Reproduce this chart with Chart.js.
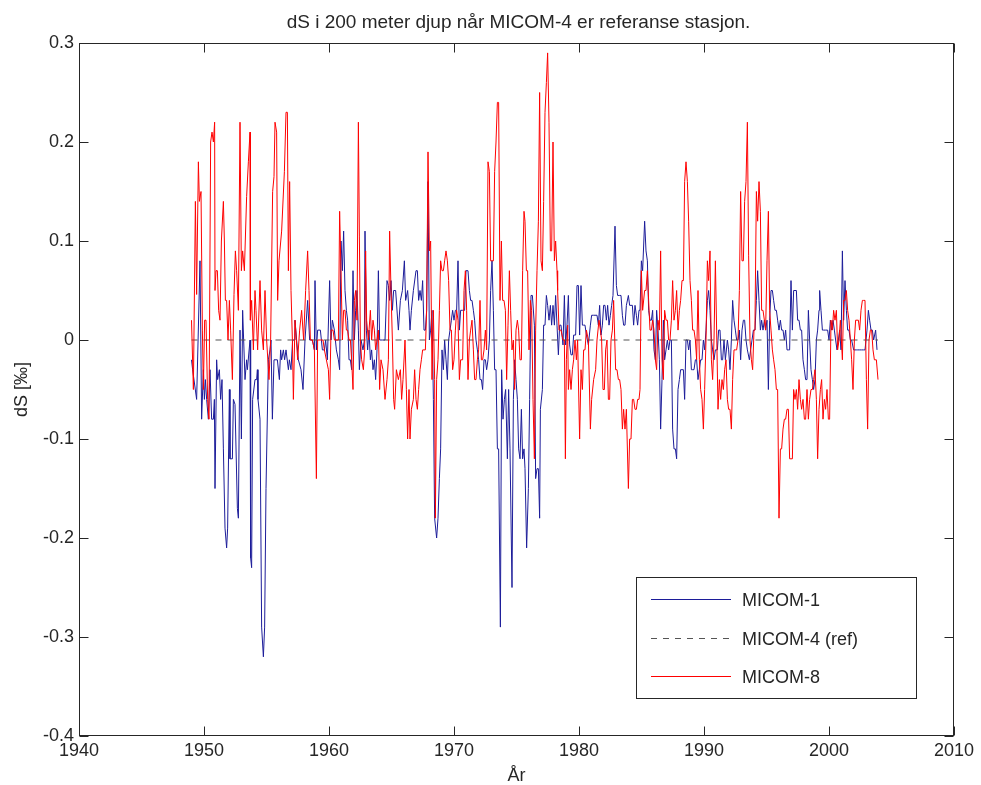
<!DOCTYPE html>
<html><head><meta charset="utf-8">
<script src="https://cdn.jsdelivr.net/npm/chart.js@4/dist/chart.umd.min.js"></script>
<style>html,body{margin:0;padding:0;background:#fff;} #wrap{width:981px;height:785px;position:relative;}</style>
</head><body><div id="wrap"><canvas id="c" width="981" height="785"></canvas></div>
<script>
const titleText = 'dS i 200 meter djup når MICOM-4 er referanse stasjon.';
const xLabel = 'År';
const yLabel = 'dS [‰]';
const seriesNames = ['MICOM-1', 'MICOM-4 (ref)', 'MICOM-8'];
const xTicks = [1940, 1950, 1960, 1970, 1980, 1990, 2000, 2010];
const yTicks = [-0.4, -0.3, -0.2, -0.1, 0, 0.1, 0.2, 0.3];

// MICOM-1 (blue)
const m1Year = [
1949.0,1949.09,1949.41,1949.68,1949.81,1949.95,1950.03,1950.11,1950.21,1950.35,1950.48,1950.61,1950.75,1950.83,1950.88,1951.01,1951.09,1951.23,1951.33,1951.44,1951.55,1951.68,1951.81,1951.89,1952.03,1952.08,1952.27,1952.35,1952.48,1952.67,1952.75,1952.88,1952.99,1953.09,1953.28,1953.41,1953.47,1953.68,1953.73,1953.81,1953.89,1954.08,1954.21,1954.27,1954.32,1954.48,1954.61,1954.75,1954.85,1954.96,1955.15,1955.28,1955.36,1955.47,1955.6,1955.87,1956.03,1956.13,1956.21,1956.35,1956.45,1956.56,1956.75,1956.83,1956.96,1957.09,1957.2,
1957.28,1957.41,1957.55,1957.76,1957.92,1958.08,1958.29,1958.45,1958.67,1958.83,1958.88,1958.99,1959.09,1959.31,1959.47,1959.63,1959.73,1959.87,1960.05,1960.16,1960.27,1960.43,1960.59,1960.75,1960.85,1960.96,1961.07,1961.17,1961.28,1961.39,1961.49,1961.6,1961.71,1961.81,1961.92,1962.03,1962.13,1962.24,1962.35,1962.43,1962.56,1962.72,1962.83,1962.88,1962.99,1963.09,1963.2,1963.31,1963.41,1963.52,1963.63,1963.73,1963.84,1963.95,1964.05,1964.27,1964.48,1964.64,1964.75,1964.85,1964.96,1965.07,1965.17,1965.33,1965.55,1965.71,1965.87,1966.03,1966.13,1966.29,1966.4,
1966.48,1966.59,1966.75,1966.96,1967.07,1967.17,1967.28,1967.39,1967.49,1967.6,1967.71,1967.81,1967.92,1968.03,1968.13,1968.24,1968.35,1968.45,1968.61,1968.72,1968.83,1968.93,1969.04,1969.15,1969.25,1969.36,1969.47,1969.57,1969.68,1969.79,1969.89,1970.0,1970.11,1970.21,1970.32,1970.43,1970.53,1970.69,1970.85,1970.96,1971.12,1971.23,1971.33,1971.44,1971.55,1971.65,1971.76,1971.87,1971.97,1972.08,1972.19,1972.29,1972.4,1972.51,1972.61,1972.72,1972.83,1972.93,1973.04,1973.15,1973.25,1973.36,1973.47,1973.57,1973.71,1973.81,1973.92,1974.03,1974.13,1974.27,1974.37,1974.48,1974.64,1974.75,1974.85,1974.96,1975.07,1975.17,1975.28,1975.39,1975.49,1975.6,
1975.68,1975.81,1975.95,1976.05,1976.16,1976.27,1976.43,1976.53,1976.64,1976.75,1976.85,1976.91,1977.07,1977.17,1977.28,1977.39,1977.49,1977.6,1977.71,1977.81,1977.92,1978.03,1978.13,1978.24,1978.35,1978.45,1978.56,1978.72,1978.83,1978.93,1979.04,1979.15,1979.25,1979.36,1979.47,1979.57,1979.73,1979.84,1979.95,1980.05,1980.16,1980.27,1980.37,1980.48,1980.59,1980.75,1980.91,1981.01,1981.17,1981.28,1981.44,1981.55,1981.65,1981.76,1981.87,1981.97,1982.08,1982.19,1982.29,1982.4,1982.51,1982.61,1982.72,1982.88,1982.99,1983.09,1983.25,1983.36,1983.47,1983.57,1983.68,1983.79,1983.95,1984.05,1984.16,1984.27,1984.37,1984.48,1984.59,1984.69,1984.8,
1984.88,1984.99,1985.09,1985.25,1985.36,1985.47,1985.57,1985.68,1985.79,1985.89,1986.0,1986.11,1986.21,1986.32,1986.43,1986.53,1986.64,1986.75,1986.85,1986.96,1987.07,1987.17,1987.28,1987.39,1987.49,1987.6,1987.71,1987.81,1987.92,1988.03,1988.13,1988.24,1988.35,1988.45,1988.56,1988.67,1988.77,1988.88,1988.99,1989.09,1989.2,1989.31,1989.41,1989.52,1989.63,1989.73,1989.84,1989.95,1990.05,1990.16,1990.27,1990.37,1990.48,1990.59,1990.69,1990.8,1990.91,1991.07,1991.17,1991.28,1991.39,1991.49,1991.6,1991.71,1991.87,1991.97,1992.08,1992.19,1992.29,1992.4,1992.51,1992.61,1992.72,1992.83,1992.93,1993.04,1993.15,1993.25,1993.36,1993.47,1993.63,1993.73,1993.84,1993.95,
1994.08,1994.19,1994.29,1994.4,1994.51,1994.61,1994.72,1994.83,1994.93,1995.04,1995.15,1995.25,1995.36,1995.47,1995.57,1995.68,1995.79,1995.89,1996.0,1996.11,1996.21,1996.32,1996.43,1996.53,1996.64,1996.75,1996.85,1996.96,1997.07,1997.17,1997.28,1997.39,1997.49,1997.6,1997.71,1997.81,1997.92,1998.03,1998.13,1998.24,1998.35,1998.45,1998.56,1998.67,1998.77,1998.88,1998.99,1999.09,1999.2,1999.25,1999.36,1999.47,1999.57,1999.73,1999.89,2000.0,2000.11,2000.21,2000.32,2000.43,2000.53,2000.64,2000.75,2000.85,2000.96,2001.07,2001.17,2001.28,2001.39,2001.49,2001.6,2001.71,2001.81,2001.97,2002.08,2002.19,2002.29,2002.45,2002.61,2002.77,2002.88,2003.04,2003.15,2003.25,2003.36,2003.47,2003.57,2003.73,2003.84
];
const m1Val = [
-0.02,-0.03,-0.06,0.08,-0.08,-0.03,-0.06,-0.04,-0.06,-0.08,-0.03,-0.08,-0.08,-0.06,-0.15,-0.02,-0.04,-0.03,-0.06,-0.04,-0.11,-0.19,-0.21,-0.19,-0.05,-0.12,-0.12,-0.06,-0.065,-0.17,-0.18,0.01,-0.10,0.03,-0.04,-0.02,-0.03,0.0,-0.22,-0.23,-0.06,-0.04,-0.04,-0.03,-0.06,-0.08,-0.29,-0.32,-0.29,-0.15,-0.02,-0.01,0.0,-0.08,-0.02,-0.02,-0.04,-0.01,-0.02,-0.01,-0.02,-0.01,-0.03,-0.02,-0.03,0.0,0.0,
0.02,0.0,-0.02,-0.03,-0.05,0.0,0.04,0.0,0.0,-0.01,0.06,-0.01,0.01,0.01,-0.01,-0.01,0.0,-0.02,0.06,0.0,0.02,0.01,-0.01,-0.02,-0.03,0.10,0.07,0.11,0.05,0.03,0.02,-0.02,-0.02,-0.03,0.07,0.0,0.03,0.05,0.01,-0.03,0.0,-0.01,0.0,0.11,0.01,-0.01,0.01,-0.02,-0.01,-0.03,-0.02,-0.04,-0.01,0.07,0.0,0.0,0.0,0.06,0.055,0.04,0.06,0.03,0.05,0.05,0.01,0.04,0.05,0.08,0.04,0.05,0.03,
0.01,0.03,0.05,0.07,0.07,0.04,0.05,0.04,0.06,0.01,0.01,0.03,0.16,0.0,0.01,0.03,-0.06,-0.18,-0.20,-0.18,-0.14,-0.11,-0.01,-0.03,0.0,-0.02,-0.04,0.0,0.01,0.02,0.03,0.02,0.03,0.03,0.08,0.01,0.03,0.03,0.03,0.07,0.07,0.05,0.04,0.04,0.03,0.02,0.0,-0.01,-0.02,-0.04,-0.04,-0.05,-0.02,-0.02,-0.03,-0.02,0.0,0.05,0.08,0.03,-0.03,-0.03,-0.11,-0.11,-0.29,-0.03,-0.08,-0.06,-0.05,-0.12,-0.05,-0.11,-0.25,-0.06,-0.02,-0.04,-0.06,-0.11,-0.12,-0.07,-0.12,-0.11,
-0.13,-0.21,-0.15,-0.06,0.045,0.045,0.015,-0.14,-0.13,-0.13,-0.18,-0.07,-0.05,0.015,0.015,0.045,0.035,0.02,0.035,0.015,0.035,0.015,0.045,0.015,-0.015,0.015,0.015,-0.005,0.045,-0.005,0.015,0.045,-0.005,-0.015,-0.015,0.005,0.005,0.055,0.055,0.005,0.055,0.015,0.015,0.015,0.005,-0.005,0.015,0.025,0.025,0.025,0.025,0.015,0.035,0.005,0.015,0.035,0.035,0.02,0.035,0.015,0.025,0.035,0.045,0.115,0.055,0.045,0.045,0.045,0.025,0.015,0.015,0.035,0.045,0.035,0.035,0.035,0.015,0.035,0.025,0.015,0.03,
0.03,0.08,0.07,0.12,0.09,0.08,0.03,0.02,0.02,0.03,-0.01,-0.02,0.03,0.01,-0.02,-0.09,-0.04,0.02,-0.02,-0.01,0.0,-0.01,0.0,0.0,-0.09,-0.11,-0.11,-0.12,-0.05,-0.04,-0.03,-0.03,-0.03,-0.06,0.0,0.0,-0.01,0.0,-0.03,-0.03,-0.03,-0.02,-0.02,-0.04,-0.03,-0.02,-0.02,0.0,-0.01,0.01,0.04,0.05,0.03,0.0,-0.01,-0.02,-0.01,-0.01,0.01,0.01,-0.02,-0.02,0.0,-0.02,0.0,-0.01,-0.03,0.0,0.04,0.02,0.01,0.0,0.0,0.01,-0.02,0.01,0.02,0.02,0.0,-0.01,-0.02,-0.01,0.0,0.01,
0.01,0.04,0.07,0.04,0.01,0.02,0.01,0.02,0.01,0.02,-0.05,0.02,0.05,0.05,0.04,0.03,0.03,0.02,0.01,0.02,0.01,0.01,0.0,0.01,-0.01,-0.01,-0.01,0.06,0.01,0.05,0.05,0.05,0.02,0.02,0.01,0.01,-0.02,-0.03,-0.04,-0.04,0.03,0.0,-0.03,-0.04,-0.05,-0.04,0.0,0.01,0.03,0.05,0.03,0.01,0.01,0.01,0.01,0.0,0.02,0.01,0.02,0.01,0.0,-0.01,0.0,0.01,-0.01,0.09,0.02,0.06,0.03,0.01,0.01,0.0,0.0,-0.01,-0.01,-0.01,-0.01,-0.01,-0.01,-0.01,-0.01,0.01,0.03,0.02,0.01,0.01,0.0,0.01,-0.01
];

// MICOM-4 (reference, zero line)
const refYear = [1949.0, 2003.92];
const refVal = [0, 0];

// MICOM-8 (red)
const m8Year = [
1949.0,1949.15,1949.31,1949.41,1949.55,1949.63,1949.76,1949.87,1949.95,1950.05,1950.16,1950.29,1950.4,1950.53,1950.64,1950.75,1950.85,1950.88,1950.96,1951.07,1951.17,1951.28,1951.39,1951.55,1951.63,1951.71,1951.81,1951.92,1952.03,1952.13,1952.27,1952.4,1952.51,1952.61,1952.75,1952.88,1952.99,1953.09,1953.23,1953.41,1953.55,1953.68,1953.71,1953.81,1953.95,1954.08,1954.16,1954.29,1954.48,1954.61,1954.75,1954.88,1955.01,1955.2,1955.33,1955.49,1955.6,1955.68,1955.81,1955.89,1956.0,1956.21,1956.43,1956.56,1956.67,1956.75,1956.85,1956.96,1957.07,1957.15,
1957.28,1957.39,1957.49,1957.65,1957.81,1957.97,1958.13,1958.29,1958.4,1958.51,1958.67,1958.83,1958.99,1959.09,1959.31,1959.52,1959.63,1959.79,1959.95,1960.05,1960.16,1960.32,1960.43,1960.64,1960.75,1960.85,1960.96,1961.07,1961.17,1961.28,1961.39,1961.49,1961.6,1961.71,1961.81,1961.92,1962.03,1962.13,1962.24,1962.35,1962.43,1962.51,1962.61,1962.75,1962.85,1962.93,1963.01,1963.15,1963.31,1963.41,1963.52,1963.63,1963.73,1963.84,1963.95,1964.05,1964.16,1964.32,1964.48,1964.64,1964.75,1964.85,1964.96,1965.07,1965.17,1965.25,1965.39,1965.55,1965.71,1965.81,1965.92,1966.08,1966.19,1966.29,1966.4,
1966.48,1966.59,1966.75,1966.85,1966.96,1967.07,1967.17,1967.28,1967.39,1967.49,1967.71,1967.81,1967.92,1968.03,1968.13,1968.24,1968.35,1968.45,1968.51,1968.61,1968.72,1968.83,1968.93,1969.04,1969.15,1969.25,1969.36,1969.47,1969.57,1969.68,1969.79,1969.89,1970.0,1970.11,1970.21,1970.32,1970.43,1970.53,1970.69,1970.8,1970.91,1971.01,1971.12,1971.23,1971.33,1971.44,1971.55,1971.65,1971.76,1971.87,1971.97,1972.08,1972.19,1972.29,1972.4,1972.51,1972.61,1972.72,1972.83,1972.93,1973.04,1973.15,1973.25,1973.36,1973.47,1973.57,1973.68,1973.79,1973.89,1974.0,1974.11,1974.21,1974.32,1974.43,1974.53,1974.64,1974.75,1974.85,1974.96,1975.07,1975.17,1975.28,1975.39,1975.49,1975.6,
1975.68,1975.79,1975.89,1976.0,1976.11,1976.21,1976.32,1976.43,1976.53,1976.64,1976.75,1976.85,1976.96,1977.07,1977.17,1977.28,1977.39,1977.49,1977.6,1977.71,1977.81,1977.92,1978.03,1978.13,1978.24,1978.29,1978.4,1978.56,1978.72,1978.83,1978.91,1978.99,1979.09,1979.15,1979.25,1979.36,1979.47,1979.57,1979.68,1979.79,1979.89,1980.05,1980.16,1980.27,1980.37,1980.48,1980.59,1980.75,1980.91,1981.01,1981.17,1981.33,1981.44,1981.6,1981.71,1981.81,1981.92,1982.03,1982.13,1982.24,1982.35,1982.45,1982.56,1982.67,1982.77,1982.93,1983.04,1983.15,1983.25,1983.36,1983.47,1983.57,1983.68,1983.79,1983.95,1984.05,1984.16,1984.27,1984.37,1984.48,1984.59,1984.69,1984.8,
1984.88,1984.99,1985.09,1985.25,1985.36,1985.47,1985.57,1985.68,1985.79,1985.89,1986.0,1986.11,1986.21,1986.32,1986.43,1986.53,1986.64,1986.75,1986.85,1986.96,1987.07,1987.17,1987.28,1987.39,1987.49,1987.6,1987.71,1987.81,1987.92,1988.03,1988.13,1988.24,1988.35,1988.45,1988.56,1988.67,1988.77,1988.88,1988.99,1989.09,1989.2,1989.31,1989.41,1989.52,1989.63,1989.73,1989.84,1989.95,1990.05,1990.16,1990.27,1990.37,1990.48,1990.59,1990.69,1990.8,1990.91,1991.01,1991.12,1991.23,1991.33,1991.44,1991.55,1991.65,1991.76,1991.87,1991.97,1992.08,1992.19,1992.29,1992.4,1992.51,1992.61,1992.72,1992.83,1992.93,1993.04,1993.15,1993.25,1993.36,1993.47,1993.57,1993.68,1993.79,1993.89,1994.0,
1994.08,1994.19,1994.29,1994.4,1994.51,1994.61,1994.72,1994.83,1994.93,1995.04,1995.15,1995.25,1995.36,1995.47,1995.57,1995.68,1995.79,1995.89,1996.0,1996.11,1996.21,1996.32,1996.43,1996.53,1996.64,1996.75,1996.85,1996.96,1997.07,1997.17,1997.28,1997.39,1997.49,1997.6,1997.71,1997.81,1997.92,1998.03,1998.13,1998.24,1998.35,1998.45,1998.56,1998.67,1998.77,1998.88,1998.99,1999.09,1999.2,1999.31,1999.41,1999.52,1999.63,1999.73,1999.84,1999.95,2000.05,2000.16,2000.27,2000.37,2000.48,2000.59,2000.69,2000.8,2000.91,2001.07,2001.17,2001.28,2001.39,2001.49,2001.6,2001.71,2001.81,2001.92,2002.03,2002.13,2002.24,2002.35,2002.45,2002.56,2002.67,2002.77,2002.88,2002.99,2003.09,2003.2,2003.31,2003.41,2003.52,2003.63,2003.79,2003.92
];
const m8Val = [
0.02,-0.05,0.14,0.046,0.18,0.14,0.15,0.01,-0.05,0.02,0.02,-0.06,-0.08,0.20,0.21,0.20,0.22,0.05,0.07,0.07,0.03,0.02,0.10,0.14,0.10,0.04,0.04,0.0,0.04,0.01,-0.04,0.046,0.09,0.07,0.03,0.22,0.07,0.09,0.07,0.145,0.18,0.21,0.02,0.04,-0.01,0.05,0.03,-0.01,0.06,0.01,-0.01,0.05,0.0,-0.04,0.0,0.15,0.165,0.22,0.21,0.04,0.08,0.11,0.17,0.23,0.23,0.07,0.16,0.05,0.0,-0.06,
0.02,0.0,-0.02,0.01,0.03,0.0,0.05,0.09,0.05,0.0,0.0,-0.01,-0.14,0.0,0.0,0.0,-0.01,-0.02,-0.03,-0.06,0.01,0.01,0.0,0.0,0.0,0.13,0.07,0.0,0.03,0.03,0.01,0.01,0.0,0.0,-0.02,-0.05,0.04,0.05,0.02,0.22,0.105,0.0,-0.02,-0.03,-0.01,0.09,0.02,0.0,0.03,0.0,0.02,0.01,-0.01,0.0,0.01,-0.05,-0.02,-0.03,-0.06,-0.04,-0.02,0.11,0.05,0.0,-0.06,-0.07,-0.03,-0.04,-0.03,-0.06,-0.04,0.0,-0.05,-0.10,-0.05,
-0.10,-0.07,-0.06,-0.03,-0.06,-0.07,-0.05,-0.03,-0.02,-0.01,-0.01,0.03,0.19,0.09,0.10,-0.04,0.03,-0.04,-0.18,-0.04,-0.02,0.03,0.08,0.07,0.07,0.08,0.09,0.08,0.06,0.01,0.01,-0.03,-0.02,0.01,0.03,0.02,-0.04,-0.02,-0.02,0.05,0.07,0.03,-0.04,0.0,0.01,0.02,-0.01,-0.04,-0.04,-0.02,-0.01,0.04,-0.02,-0.02,-0.01,0.01,-0.01,0.18,0.17,0.08,0.08,0.08,0.17,0.20,0.24,0.24,0.04,0.10,0.04,0.04,0.03,-0.04,0.015,0.07,0.03,-0.01,0.0,-0.05,0.01,0.02,0.01,-0.02,-0.02,0.07,0.13,
0.12,0.07,0.07,-0.01,0.04,0.03,-0.06,-0.12,0.01,0.07,0.12,0.25,0.08,0.07,0.14,0.23,0.26,0.29,0.22,0.09,0.09,0.20,0.08,0.10,0.07,0.05,0.01,0.01,0.0,0.0,-0.12,-0.02,0.015,-0.05,-0.03,-0.05,-0.03,-0.02,0.0,-0.02,0.0,-0.10,-0.03,-0.05,-0.01,-0.01,0.01,0.0,-0.09,-0.06,-0.04,-0.03,0.0,0.02,0.01,0.0,-0.05,-0.05,-0.01,0.0,-0.06,-0.06,0.0,0.01,0.04,-0.03,-0.03,-0.04,-0.04,-0.05,-0.09,-0.07,-0.09,-0.07,-0.15,-0.10,-0.10,-0.06,-0.06,-0.07,-0.07,-0.06,-0.06,
-0.05,0.07,0.03,0.05,0.05,0.07,0.04,0.01,0.01,0.02,0.01,-0.02,-0.03,0.02,0.01,0.09,-0.02,-0.04,0.03,0.02,0.02,0.0,0.0,0.02,0.06,0.02,0.03,0.05,0.01,0.03,0.04,0.06,0.06,0.16,0.18,0.16,0.12,0.06,0.04,0.01,0.01,0.0,-0.02,0.05,-0.02,-0.05,-0.06,-0.09,-0.05,0.0,0.08,0.06,0.09,-0.02,-0.04,0.0,0.08,0.01,-0.07,-0.04,-0.06,-0.04,-0.05,-0.03,-0.02,-0.06,-0.07,-0.07,-0.09,-0.04,-0.01,-0.01,-0.01,0.0,0.05,0.15,0.08,0.08,0.14,0.16,0.22,0.085,0.0,-0.02,-0.03,0.01,
0.02,0.15,0.12,0.16,0.13,0.03,0.03,0.02,0.01,0.08,0.13,0.03,0.01,-0.01,-0.02,-0.03,-0.05,-0.05,-0.18,-0.11,-0.11,-0.09,-0.08,-0.08,-0.07,-0.07,-0.12,-0.12,-0.12,-0.05,-0.06,-0.05,-0.07,-0.04,-0.06,-0.07,-0.06,-0.08,-0.08,-0.05,-0.08,-0.06,-0.05,-0.05,-0.04,-0.03,-0.06,-0.12,-0.07,-0.05,-0.04,-0.08,-0.06,-0.07,-0.05,-0.08,-0.08,0.02,0.01,0.03,0.02,0.03,-0.01,0.0,0.02,-0.02,0.04,0.04,0.05,0.03,0.02,0.0,-0.02,-0.05,0.0,0.02,0.02,0.02,0.01,0.03,0.04,0.04,0.04,-0.04,-0.09,0.0,0.01,0.01,-0.01,-0.02,-0.02,-0.04
];

const FONT = '"Liberation Sans", Arial, Helvetica, sans-serif';
const TEXT = '#262626';
const BLUE = '#1c1c99';
const RED = '#ff0000';
const GREY = '#555555';

const toPts = (xs, ys) => xs.map((x, i) => ({ x: x, y: ys[i] }));

const frame = {
  id: 'frame',
  afterDraw(chart) {
    const { ctx, chartArea: a, scales: { x, y } } = chart;
    ctx.save();
    ctx.strokeStyle = TEXT;
    ctx.lineWidth = 1;
    const L = Math.round(a.left) + 0.5, R = Math.round(a.right) - 0.5;
    const T = Math.round(a.top) + 0.5, B = Math.round(a.bottom) - 0.5;
    ctx.strokeRect(L, T, R - L, B - T);
    const tl = 9;
    ctx.beginPath();
    xTicks.forEach(v => {
      const px = Math.round(x.getPixelForValue(v)) + 0.5;
      ctx.moveTo(px, B); ctx.lineTo(px, B - tl);
      ctx.moveTo(px, T); ctx.lineTo(px, T + tl);
    });
    yTicks.forEach(v => {
      const py = Math.round(y.getPixelForValue(v)) + 0.5;
      ctx.moveTo(L, py); ctx.lineTo(L + tl, py);
      ctx.moveTo(R, py); ctx.lineTo(R - tl, py);
    });
    ctx.stroke();

    // title and axis labels
    ctx.fillStyle = TEXT;
    ctx.textAlign = 'center';
    ctx.textBaseline = 'alphabetic';
    ctx.font = '19px ' + FONT;
    ctx.fillText(titleText, (a.left + a.right) / 2 + 2, 28);
    ctx.font = '18px ' + FONT;
    ctx.fillText(xLabel, (a.left + a.right) / 2, 781);
    ctx.save();
    ctx.translate(27, (a.top + a.bottom) / 2);
    ctx.rotate(-Math.PI / 2);
    ctx.fillText(yLabel, 0, 0);
    ctx.restore();

    // legend
    const bx = 636.5, by = 577.5, bw = 280, bh = 121;
    ctx.fillStyle = '#ffffff';
    ctx.fillRect(bx, by, bw, bh);
    ctx.strokeStyle = TEXT;
    ctx.strokeRect(bx, by, bw, bh);
    const rows = [599, 638, 676];
    const cols = [BLUE, GREY, RED];
    rows.forEach((ry, i) => {
      ctx.beginPath();
      ctx.strokeStyle = cols[i];
      ctx.setLineDash(i === 1 ? [6, 6] : []);
      ctx.moveTo(651, ry + 0.5); ctx.lineTo(731, ry + 0.5);
      ctx.stroke();
      ctx.setLineDash([]);
      ctx.fillStyle = TEXT;
      ctx.textAlign = 'left';
      ctx.font = '18px ' + FONT;
      ctx.fillText(seriesNames[i], 742, ry + 7);
    });
    ctx.restore();
  }
};

new Chart(document.getElementById('c').getContext('2d'), {
  type: 'scatter',
  data: {
    datasets: [
      { label: seriesNames[0], data: toPts(m1Year, m1Val), showLine: true, borderColor: BLUE, backgroundColor: BLUE, borderWidth: 1, pointRadius: 0, order: 2 },
      { label: seriesNames[1], data: toPts(refYear, refVal), showLine: true, borderColor: GREY, backgroundColor: GREY, borderWidth: 1, borderDash: [6, 6], pointRadius: 0, order: 1 },
      { label: seriesNames[2], data: toPts(m8Year, m8Val), showLine: true, borderColor: RED, backgroundColor: RED, borderWidth: 1, pointRadius: 0, order: 0 }
    ]
  },
  options: {
    responsive: false,
    animation: false,
    devicePixelRatio: 1,
    layout: { padding: { top: 43, right: 27, left: 0, bottom: 0 } },
    elements: { line: { tension: 0 } },
    plugins: { legend: { display: false }, tooltip: { enabled: false }, title: { display: false } },
    scales: {
      x: {
        type: 'linear', min: 1940, max: 2010,
        afterBuildTicks(s) { s.ticks = xTicks.map(v => ({ value: v })); },
        afterFit(s) { s.height = 49; },
        grid: { display: false, drawTicks: false },
        border: { display: false },
        ticks: { padding: 4, autoSkip: false, maxRotation: 0, color: TEXT, font: { family: FONT, size: 18 }, callback: v => String(v) }
      },
      y: {
        type: 'linear', min: -0.4, max: 0.3,
        afterBuildTicks(s) { s.ticks = yTicks.map(v => ({ value: v })); },
        afterFit(s) { s.width = 79; },
        grid: { display: false, drawTicks: false },
        border: { display: false },
        ticks: { padding: 5, color: TEXT, font: { family: FONT, size: 18 }, callback: v => String(Math.round(v * 10) / 10) }
      }
    }
  },
  plugins: [frame]
});
</script>
</body></html>
